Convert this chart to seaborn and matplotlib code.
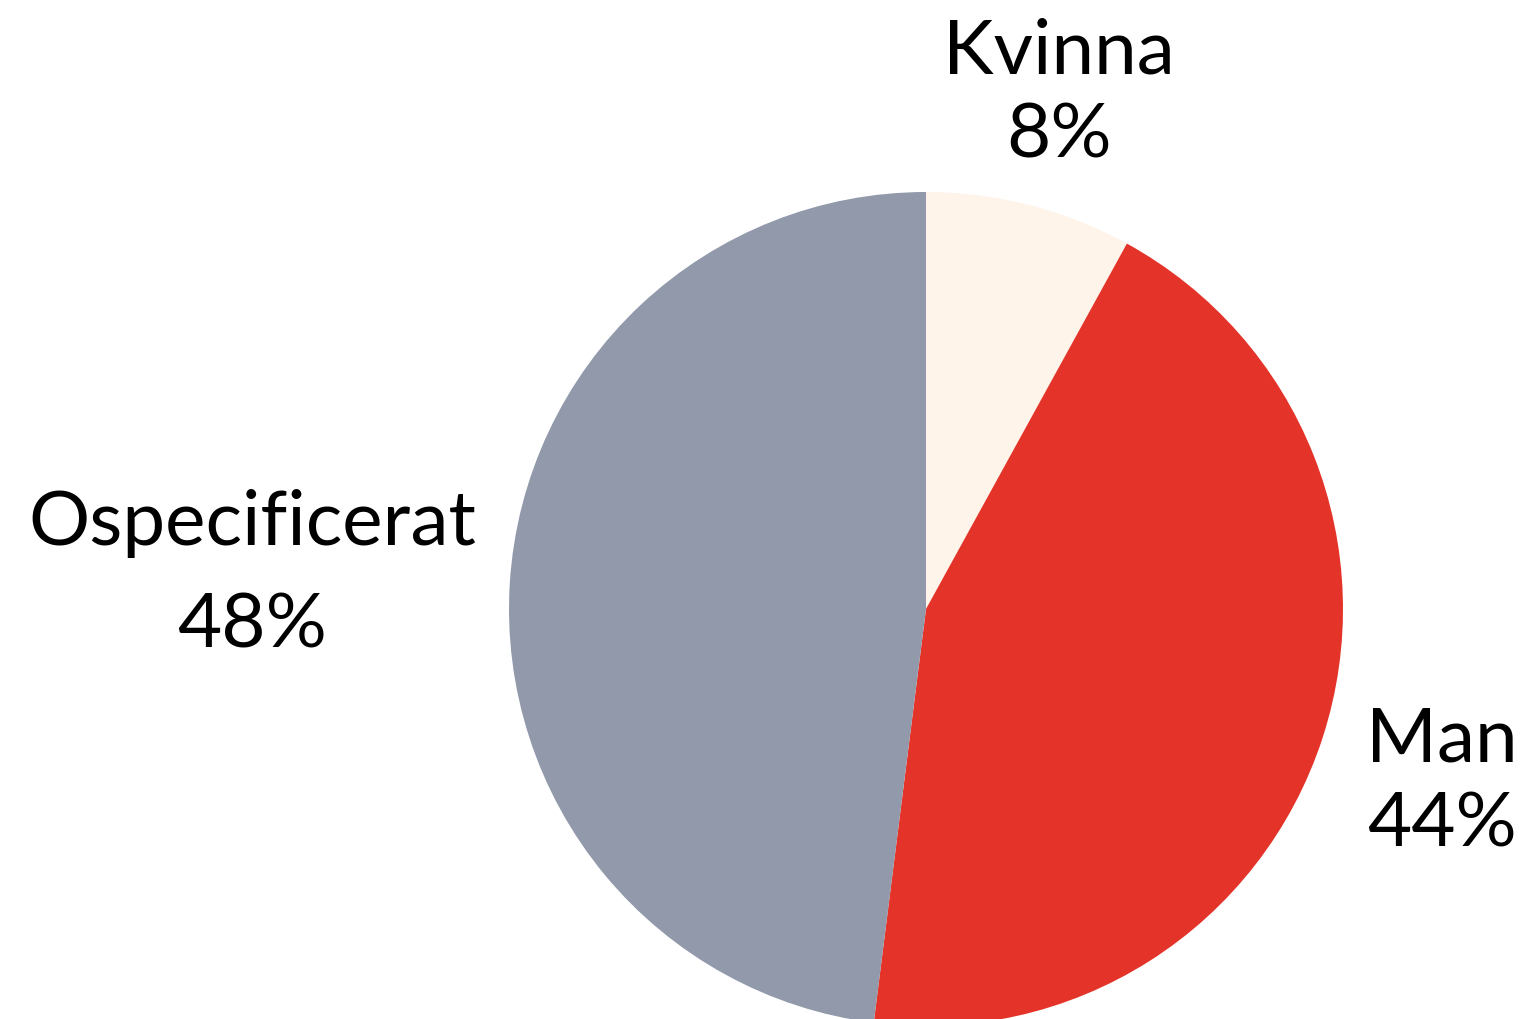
import matplotlib
matplotlib.use("Agg")
import matplotlib.pyplot as plt
import seaborn as sns

categories = ["Kvinna", "Man", "Ospecificerat"]
values = [8, 44, 48]
colors = ["#FEF4EA", "#E43429", "#9199AB"]

sns.set_theme(style="white")
plt.rcParams["font.family"] = ["Lato", "DejaVu Sans"]

W, H = 1525, 1020
cx, cy, r = 926, 610, 417
fig = plt.figure(figsize=(W / 100, H / 100), dpi=100)
ax = fig.add_axes([(cx - r) / W, (H - cy - r) / H, 2 * r / W, 2 * r / H])
ax.pie(values, colors=sns.color_palette(colors), startangle=90, counterclock=False,
       radius=1, wedgeprops=dict(linewidth=0), frame=False)
ax.set_xlim(-1, 1)
ax.set_ylim(-1, 1)
ax.set_aspect("equal")
ax.axis("off")

# label positions (pixel centres / baselines) per category
label_px = {
    "Kvinna": (1059, 73, 157),
    "Man": (1442, 762, 847),
    "Ospecificerat": (252, 545, 647),
}
for cat, val in zip(categories, values):
    px, b1, b2 = label_px[cat]
    x = (px - cx) / r
    ax.text(x, (cy - b1) / r, cat, ha="center", va="baseline", fontsize=55,
            color="black", clip_on=False)
    ax.text(x, (cy - b2) / r, f"{val}%", ha="center", va="baseline", fontsize=55,
            color="black", clip_on=False)

fig.savefig("out.png", dpi=100)
